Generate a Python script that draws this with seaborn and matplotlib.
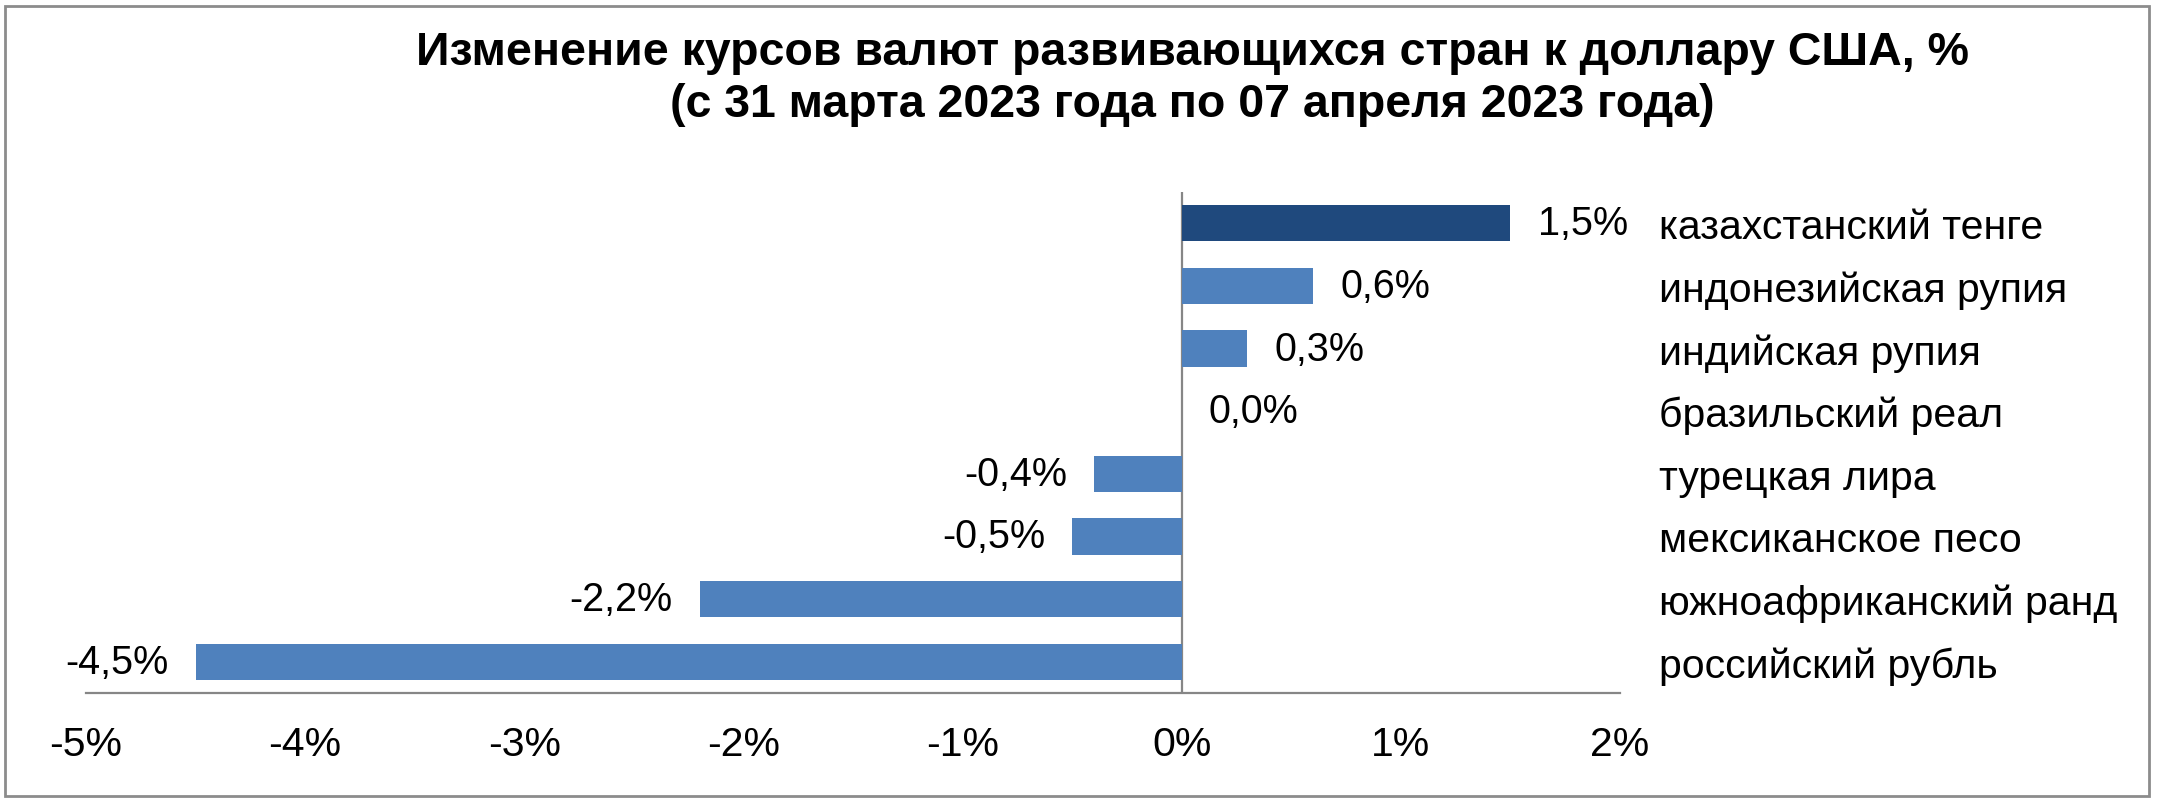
import matplotlib
matplotlib.use("Agg")
import matplotlib.pyplot as plt
from matplotlib.patches import Rectangle
import seaborn as sns
import pandas as pd

# chart data
currencies = ["казахстанский тенге", "индонезийская рупия", "индийская рупия",
              "бразильский реал", "турецкая лира", "мексиканское песо",
              "южноафриканский ранд", "российский рубль"]
change_pct = [1.5, 0.6, 0.3, 0.0, -0.4, -0.5, -2.2, -4.5]
x_ticks = [-5, -4, -3, -2, -1, 0, 1, 2]
x_tick_labels = ["-5%", "-4%", "-3%", "-2%", "-1%", "0%", "1%", "2%"]
title = ("Изменение курсов валют развивающихся стран к доллару США, %\n"
         "(с 31 марта 2023 года по 07 апреля 2023 года)")

df = pd.DataFrame({"currency": currencies, "change": change_pct})

sns.set_theme(style="white")
plt.rcParams["font.family"] = ["Liberation Sans", "DejaVu Sans"]
plt.rcParams["text.color"] = "black"

bar_colors = ["#1f497d"] + ["#4f81bd"] * (len(currencies) - 1)

fig = plt.figure(figsize=(21.6, 8.03), dpi=100)
ax = fig.add_axes([86 / 2160, 1 - 694 / 803, (1620 - 86) / 2160, (694 - 193) / 803])

sns.barplot(data=df, x="change", y="currency", hue="currency",
            palette=bar_colors, orient="h", width=0.58, legend=False,
            saturation=1, linewidth=0, ax=ax)

# value labels
for c in ax.containers:
    labels = [f"{v:.1f}%".replace(".", ",") for v in c.datavalues]
    ax.bar_label(c, labels=labels, padding=19.5, fontsize=28.5, color="black")

ax.set_xlim(-5, 2)
ax.set_ylim(len(currencies) - 0.5, -0.5)
ax.set_xticks(x_ticks)
ax.set_xticklabels(x_tick_labels, fontsize=29.5, color="black")
ax.set_xlabel("")
ax.set_ylabel("")

# category names on the right side
ax.yaxis.tick_right()
ax.tick_params(axis="y", length=0, pad=28, labelsize=29.5, labelcolor="black")
ax.tick_params(axis="x", length=0, pad=23)

for s in ["top", "left", "right"]:
    ax.spines[s].set_visible(False)
ax.spines["bottom"].set_color("#868686")
ax.spines["bottom"].set_linewidth(1.6)
ax.axvline(0, color="#868686", lw=1.6, zorder=0)
ax.grid(False)

fig.text(1192 / 2160, 1 - 79 / 803, title, ha="center", va="center", color="black",
         fontsize=33.5, fontweight="bold", linespacing=1.22, multialignment="center")

# outer frame
fig.patches.append(Rectangle((5 / 2160, 6 / 803), 2144 / 2160, 790 / 803,
                             transform=fig.transFigure, fill=False,
                             edgecolor="#8c8c8c", lw=2))

fig.savefig("out.png", dpi=100)
